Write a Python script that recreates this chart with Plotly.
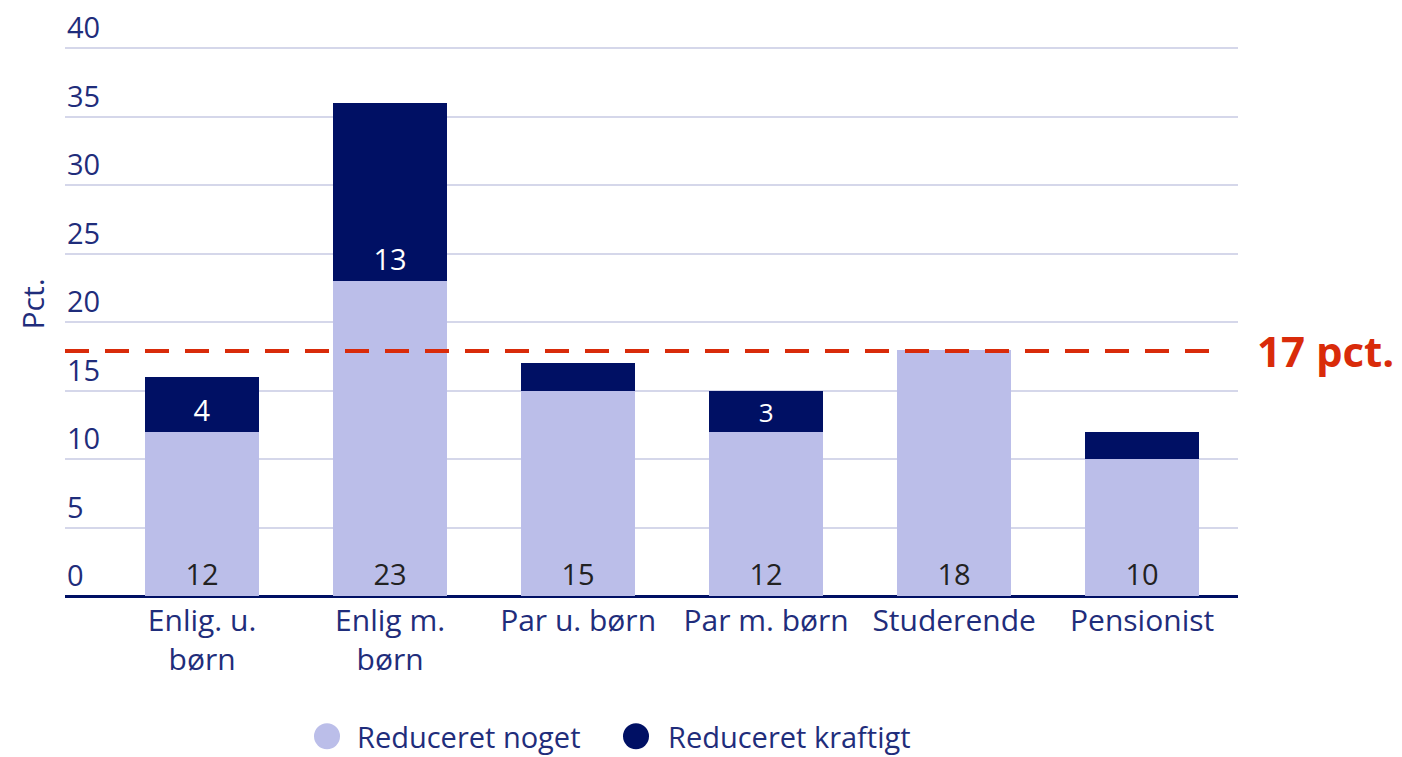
import plotly.graph_objects as go

categories = ["Enlig. u.<br>børn", "Enlig m.<br>børn", "Par u. børn", "Par m. børn", "Studerende", "Pensionist"]
reduceret_noget = [12, 23, 15, 12, 18, 10]
reduceret_kraftigt = [4, 13, 2, 3, 0, 2]
kraftigt_labels = ["4", "13", "", "3", "", ""]
avg_line = 17.9
avg_label = "17 pct."
y_ticks = [0, 5, 10, 15, 20, 25, 30, 35, 40]
series_names = ["Reduceret noget", "Reduceret kraftigt"]

LIGHT = "#bbbee9"
DARK = "#001064"
NAVY_TXT = "#1f2d7b"
RED = "#d92b0a"
FONT = "Open Sans"
FS = 30

# plot area in page pixels (for placing legend items / labels in paper units)
PX_L, PX_W, PX_B, PX_H = 65, 1173, 596, 548
def px(sx):
    return (sx - PX_L) / PX_W
def py(sy):
    return (PX_B - sy) / PX_H

x = list(range(len(categories)))

fig = go.Figure()
fig.add_trace(go.Bar(
    x=x, y=reduceret_noget, name=series_names[0], marker_color=LIGHT,
    marker_line_width=0, width=0.61,
    text=[str(v) for v in reduceret_noget], textposition="inside",
    insidetextanchor="start", textangle=0,
    textfont=dict(color="#222222", size=29, family=FONT),
    showlegend=False,
))
fig.add_trace(go.Bar(
    x=x, y=reduceret_kraftigt, name=series_names[1], marker_color=DARK,
    marker_line_width=0, width=0.61,
    text=kraftigt_labels, textposition="inside",
    insidetextanchor="start", textangle=0,
    textfont=dict(color="white", size=29, family=FONT),
    showlegend=False,
))

# custom legend with large circle symbols
LEG_Y = 736
legend_items = [(series_names[0], LIGHT, 327, 355), (series_names[1], DARK, 636, 666)]
for name, col, cx, tx in legend_items:
    fig.add_shape(type="circle", xref="paper", yref="paper",
                  x0=px(cx - 13), x1=px(cx + 13), y0=py(LEG_Y + 13), y1=py(LEG_Y - 13),
                  fillcolor=col, line_width=0)
    fig.add_annotation(xref="paper", yref="paper", x=px(tx), y=py(LEG_Y), xanchor="left",
                       yanchor="middle", text=name, showarrow=False,
                       font=dict(color=NAVY_TXT, size=29, family=FONT))

fig.add_shape(type="line", xref="paper", yref="y", x0=0, x1=0.986, y0=avg_line, y1=avg_line,
              line=dict(color=RED, width=4, dash="24px,16px"), layer="above")
fig.add_annotation(xref="paper", yref="y", x=1.0145, y=avg_line, xanchor="left", yanchor="middle",
                   text="<b>" + avg_label + "</b>", showarrow=False,
                   font=dict(color=RED, size=42, family=FONT))
fig.add_annotation(xref="paper", yref="paper", x=px(32), y=py(305), xanchor="center",
                   yanchor="middle", text="Pct.", textangle=-90,
                   showarrow=False, font=dict(color=NAVY_TXT, size=FS, family=FONT))
# y tick labels above gridlines
for t in y_ticks:
    fig.add_annotation(xref="paper", yref="y", x=0, y=t, xanchor="left", yanchor="bottom",
                       yshift=0, text=str(t), showarrow=False,
                       font=dict(color=NAVY_TXT, size=29, family=FONT))

fig.update_layout(
    width=1394, height=749,
    margin=dict(l=57, r=164, t=39, b=161, autoexpand=False),
    barmode="stack",
    plot_bgcolor="white", paper_bgcolor="white",
    font=dict(family=FONT, color=NAVY_TXT, size=FS),
    showlegend=False,
)
fig.update_xaxes(
    tickmode="array", tickvals=x, ticktext=categories,
    range=[-0.729, 5.51], showgrid=False, ticks="", ticklabelstandoff=4,
    tickfont=dict(size=FS, color=NAVY_TXT, family=FONT),
    showline=False, zeroline=False, automargin=False,
)
fig.update_yaxes(
    range=[0, 40.1], tickvals=y_ticks, showticklabels=False,
    showgrid=True, gridcolor="#d5d7ea", gridwidth=2,
    zeroline=True, zerolinecolor=DARK, zerolinewidth=3,
    showline=False, ticks="", automargin=False,
)

fig.write_html("out.html")
